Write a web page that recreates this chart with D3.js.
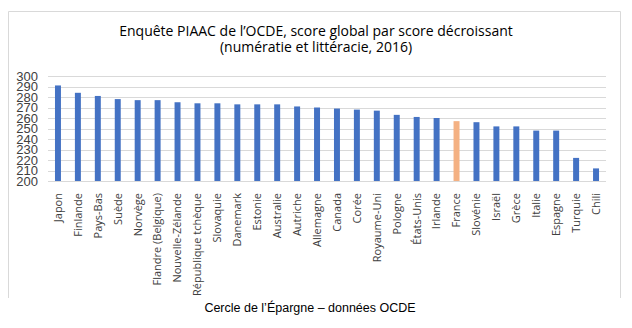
<!DOCTYPE html>
<html><head><meta charset="utf-8">
<script src="https://cdn.jsdelivr.net/npm/d3@7"></script>
<style>body{margin:0;background:#fff}svg{display:block}</style>
</head><body>
<svg id="c" width="632" height="328"></svg>
<script>
const categories = ["Japon","Finlande","Pays-Bas","Suède","Norvège","Flandre (Belgique)","Nouvelle-Zélande","République tchèque","Slovaquie","Danemark","Estonie","Australie","Autriche","Allemagne","Canada","Corée","Royaume-Uni","Pologne","États-Unis","Irlande","France","Slovénie","Israël","Grèce","Italie","Espagne","Turquie","Chili"];
const scores = [291,284,281,278,277,277,275,274,274,273,273,273,271,270,269,268,267,263,261,260,257,256,252,252,248,248,222,212];
const yTicks = [200,210,220,230,240,250,260,270,280,290,300];
const highlight = "France";

const svg = d3.select("#c");
// frame
svg.append("path").attr("d","M8.5,298 V11.5 H620.5 V298").attr("fill","none").attr("stroke","#d9d9d9").attr("stroke-width",1);

const x = d3.scaleBand().domain(categories).range([48,606]).paddingInner(0.7).paddingOuter(0.35);
const y = d3.scaleLinear().domain([200,300]).range([181,76]);

// gridlines
svg.append("g").selectAll("line").data(yTicks).join("line")
  .attr("x1",48).attr("x2",606)
  .attr("y1",d=>Math.round(y(d))+0.5).attr("y2",d=>Math.round(y(d))+0.5)
  .attr("stroke","#d9d9d9").attr("stroke-width",1);

// y axis labels
const yAxis = d3.axisLeft(y).tickValues(yTicks).tickSize(0).tickPadding(10);
const gy = svg.append("g").attr("transform","translate(48,0)").call(yAxis);
gy.select(".domain").remove();
gy.selectAll("text").attr("font-family","Liberation Sans, Arial, sans-serif").attr("font-size",13).attr("fill","#404040");

// bars
svg.append("g").selectAll("rect").data(categories).join("rect")
  .attr("x",d=>x(d)).attr("width",x.bandwidth())
  .attr("y",(d,i)=>y(scores[i])).attr("height",(d,i)=>y(200)-y(scores[i]))
  .attr("fill",d=>d===highlight?"#F4B183":"#4472C4");

// x labels
const xAxis = d3.axisBottom(x).tickSize(0).tickPadding(0);
const gx = svg.append("g").attr("transform","translate(0,181)").call(xAxis);
gx.select(".domain").remove();
gx.selectAll("text")
  .attr("font-family","Open Sans, sans-serif").attr("font-size",11).attr("fill","#404040")
  .attr("transform","rotate(-90)").attr("text-anchor","end")
  .attr("dy","0.35em").attr("x",-12).attr("y",0);

// title
const title = svg.append("g").attr("font-family","Open Sans, sans-serif").attr("font-size",14).attr("fill","#000").attr("text-anchor","middle");
title.append("text").attr("x",316).attr("y",36).text("Enquête PIAAC de l’OCDE, score global par score décroissant");
title.append("text").attr("x",316).attr("y",52).text("(numératie et littéracie, 2016)");

// footer
svg.append("text").attr("x",310).attr("y",312).attr("text-anchor","middle")
  .attr("font-family","Liberation Sans, Arial, sans-serif").attr("font-size",12.5).attr("fill","#000")
  .text("Cercle de l’Épargne – données OCDE");
</script>
</body></html>
